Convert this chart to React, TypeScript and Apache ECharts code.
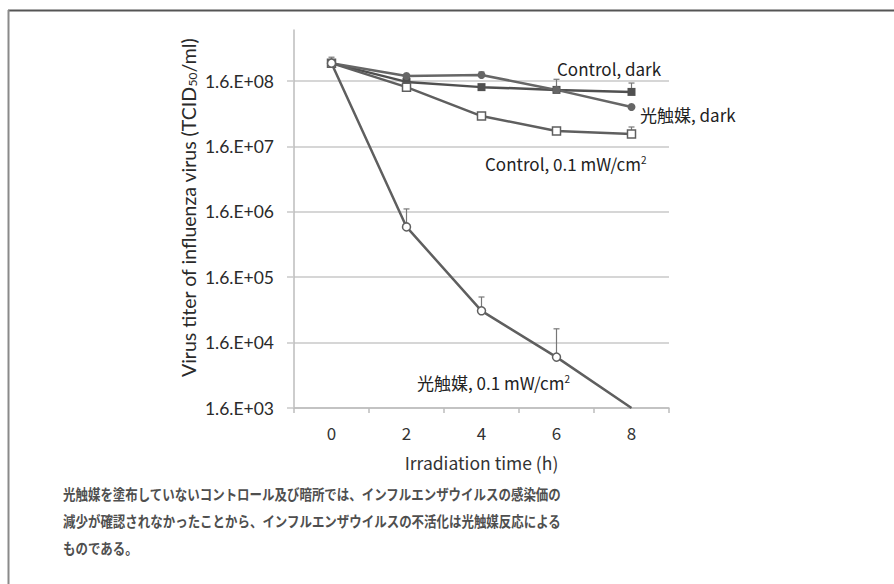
import React, { useEffect, useRef } from "react";
import * as echarts from "echarts";

// ---- data ----
const times = ["0", "2", "4", "6", "8"];
const yTickLabels = ["1.6.E+03", "1.6.E+04", "1.6.E+05", "1.6.E+06", "1.6.E+07", "1.6.E+08"];
const baseValue = 1600; // lowest axis value (1.6E+03)

const controlDark = [3.0e8, 1.55e8, 1.29e8, 1.17e8, 1.09e8];
const photoDark = [3.0e8, 1.91e8, 1.98e8, 1.17e8, 6.4e7];
const controlLight = [3.0e8, 1.29e8, 4.66e7, 2.75e7, 2.48e7];
const photoLight = [3.0e8, 9.4e5, 4.9e4, 9.6e3, 1.6e3];

// upper error bar ends (null = none drawn)
const controlDarkErr = [3.7e8, null, null, 1.7e8, 1.49e8];
const photoDarkErr = [null, null, 2.2e8, null, null];
const controlLightErr = [null, null, null, null, 3.17e7];
const photoLightErr = [null, 1.77e6, 7.97e4, 2.6e4, null];

const seriesNames = ["Control, dark", "光触媒, dark", "Control, 0.1 mW/cm2", "光触媒, 0.1 mW/cm2"];

const captionLines = [
  "光触媒を塗布していないコントロール及び暗所では、インフルエンザウイルスの感染価の",
  "減少が確認されなかったことから、インフルエンザウイルスの不活化は光触媒反応による",
  "ものである。",
];

const toLog = (v: number) => Math.log10(v / baseValue);

export default function App() {
  const ref = useRef<HTMLDivElement>(null);

  useEffect(() => {
    if (!ref.current) return;
    const chart = echarts.init(ref.current, null, { renderer: "svg" });

    const lineColor = "#5f5f5f";
    const mkLine = (
      name: string,
      vals: number[],
      symbol: string,
      filled: boolean,
      color: string
    ) => ({
      type: "line",
      name,
      data: vals.map((v) =>
        v <= baseValue ? { value: toLog(v), symbol: "none" } : toLog(v)
      ),
      symbol,
      symbolSize: 8,
      showAllSymbol: true,
      lineStyle: { color, width: 2.5 },
      itemStyle: {
        color: filled ? color : "#ffffff",
        borderColor: color,
        borderWidth: filled ? 0 : 1.5,
      },
      z: 3,
    });

    const errData: any[] = [];
    [controlDarkErr, photoDarkErr, controlLightErr, photoLightErr].forEach((arr, si) => {
      const base = [controlDark, photoDark, controlLight, photoLight][si];
      arr.forEach((u, i) => {
        if (u != null) errData.push([i, toLog(base[i]), toLog(u)]);
      });
    });

    const maxLog = 5.78;
    const annFont = "Noto Sans CJK JP";

    chart.setOption({
      animation: false,
      backgroundColor: "#ffffff",
      grid: { left: 294, right: 225, top: 30, bottom: 176 },
      xAxis: {
        type: "category",
        data: times,
        boundaryGap: true,
        axisLine: { show: true, lineStyle: { color: "#bdbdbd", width: 1.5 } },
        axisTick: { show: true, length: 5, lineStyle: { color: "#bdbdbd", width: 1.5 } },
        axisLabel: {
          margin: 16,
          fontSize: 17,
          color: "#333333",
          fontFamily: annFont,
        },
        name: "Irradiation time (h)",
        nameLocation: "middle",
        nameGap: 46,
        nameTextStyle: { fontSize: 17.5, color: "#333333", fontFamily: annFont },
      },
      yAxis: {
        type: "value",
        min: 0,
        max: maxLog,
        interval: 1,
        axisLine: { show: true, lineStyle: { color: "#bdbdbd", width: 1.5 } },
        axisTick: {
          show: true,
          length: 7,
          customValues: [0, 1, 2, 3, 4, 5],
          lineStyle: { color: "#c8c8c8", width: 1.5 },
        },
        splitLine: {
          show: true,
          lineStyle: { color: "#c8c8c8", width: 1.5 },
        },
        axisLabel: {
          margin: 20,
          fontSize: 17.5,
          color: "#2a2a2a",
          fontFamily: "Lato",
          customValues: [0, 1, 2, 3, 4, 5],
          formatter: (v: number) =>
            Number.isInteger(v) && yTickLabels[v] ? yTickLabels[v] : "",
        },
      },
      series: [
        mkLine(seriesNames[0], controlDark, "rect", true, "#505050"),
        mkLine(seriesNames[1], photoDark, "circle", true, "#666666"),
        mkLine(seriesNames[2], controlLight, "rect", false, lineColor),
        mkLine(seriesNames[3], photoLight, "circle", false, lineColor),
        {
          type: "custom",
          name: "error",
          data: errData,
          z: 2,
          renderItem: (params: any, api: any) => {
            const p0 = api.coord([api.value(0), api.value(1)]);
            const p1 = api.coord([api.value(0), api.value(2)]);
            return {
              type: "group",
              children: [
                {
                  type: "line",
                  shape: { x1: p0[0], y1: p0[1], x2: p1[0], y2: p1[1] },
                  style: { stroke: "#777777", lineWidth: 1.2 },
                },
                {
                  type: "line",
                  shape: { x1: p1[0] - 3, y1: p1[1], x2: p1[0] + 3, y2: p1[1] },
                  style: { stroke: "#777777", lineWidth: 1.2 },
                },
              ],
            };
          },
        },
      ],
      graphic: [
        // frame (top and left)
        {
          type: "line",
          shape: { x1: 8, y1: 10.5, x2: 894, y2: 10.5 },
          style: { stroke: "#555555", lineWidth: 2 },
        },
        {
          type: "line",
          shape: { x1: 8.5, y1: 10, x2: 8.5, y2: 584 },
          style: { stroke: "#8a8a8a", lineWidth: 2 },
        },
        // y-axis title
        {
          type: "text",
          x: 188,
          y: 208,
          rotation: Math.PI / 2,
          style: {
            text: "Virus titer of influenza virus (TCID{sub|50}/ml)",
            fontSize: 19.5,
            fontFamily: "Lato",
            fill: "#2a2a2a",
            align: "center",
            verticalAlign: "middle",
            rich: {
              sub: { fontSize: 12, fontFamily: "Lato", fill: "#2a2a2a", verticalAlign: "bottom" },
            },
          },
        },
        // series annotations
        {
          type: "text",
          x: 557,
          y: 68,
          style: {
            text: "Control, dark",
            fontSize: 17,
            fontFamily: annFont,
            fill: "#222222",
            align: "left",
            verticalAlign: "middle",
          },
        },
        {
          type: "text",
          x: 640,
          y: 114,
          style: {
            text: "光触媒, dark",
            fontSize: 17,
            fontFamily: annFont,
            fill: "#222222",
            align: "left",
            verticalAlign: "middle",
          },
        },
        {
          type: "text",
          x: 485,
          y: 163,
          style: {
            text: "Control, 0.1 mW/cm{sup|2}",
            fontSize: 17,
            fontFamily: annFont,
            fill: "#222222",
            align: "left",
            verticalAlign: "middle",
            rich: {
              sup: { fontSize: 10, fontFamily: annFont, fill: "#222222", verticalAlign: "top" },
            },
          },
        },
        {
          type: "text",
          x: 417,
          y: 382,
          style: {
            text: "光触媒, 0.1 mW/cm{sup|2}",
            fontSize: 17,
            fontFamily: annFont,
            fill: "#222222",
            align: "left",
            verticalAlign: "middle",
            rich: {
              sup: { fontSize: 10, fontFamily: annFont, fill: "#222222", verticalAlign: "top" },
            },
          },
        },
        // caption
        {
          type: "text",
          x: 63,
          y: 480,
          scaleX: 0.86,
          style: {
            text: captionLines.join("\n"),
            fontSize: 14.5,
            fontWeight: "bold",
            lineHeight: 27,
            fontFamily: annFont,
            fill: "#4f4f4f",
            align: "left",
            verticalAlign: "top",
          },
        },
      ],
    });

    return () => chart.dispose();
  }, []);

  return (
    <div
      ref={ref}
      style={{ position: "fixed", left: 0, top: 0, width: 894, height: 584 }}
    />
  );
}
